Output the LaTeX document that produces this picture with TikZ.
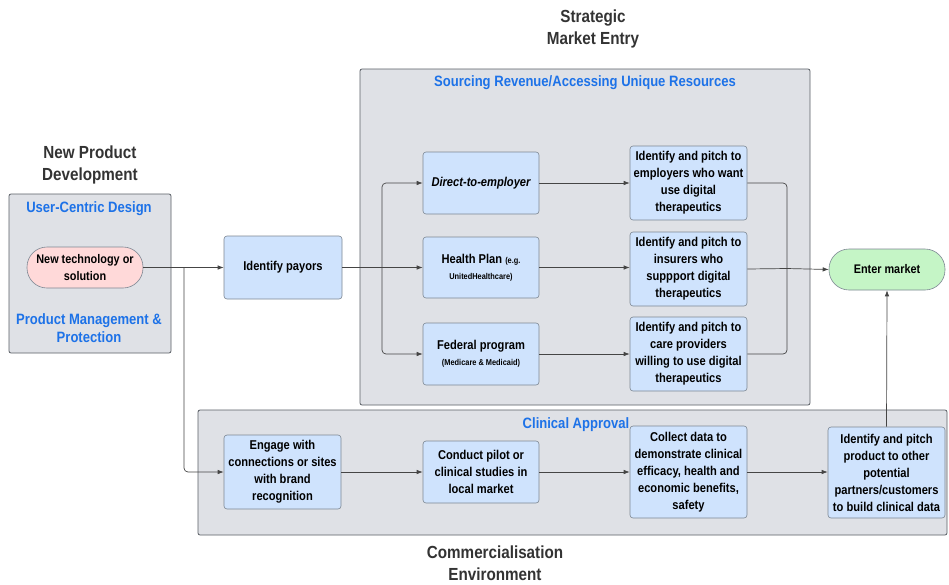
\documentclass[tikz,border=0pt]{standalone}
\usepackage{fontspec}
\setmainfont{Liberation Sans}[FakeStretch=0.87]
\usetikzlibrary{arrows.meta,calc}
\definecolor{panelfill}{HTML}{DFE1E6}
\definecolor{panelline}{HTML}{5A5F66}
\definecolor{boxfill}{HTML}{CFE3FD}
\definecolor{boxline}{HTML}{7D8793}
\definecolor{headblue}{HTML}{1D72E8}
\definecolor{titlegray}{HTML}{333333}
\definecolor{linkgray}{HTML}{454545}
\definecolor{startfill}{HTML}{FFD9D9}
\definecolor{endfill}{HTML}{C5F5C6}
\tikzset{
  panel/.style={draw=panelline, fill=panelfill, line width=0.8pt, rounded corners=2pt},
  stepbox/.style={draw=boxline, fill=boxfill, line width=0.6pt, rounded corners=3pt,
    align=center, font=\bfseries\fontsize{12.8}{17}\selectfont, inner sep=2pt},
  pill/.style={draw=boxline, line width=0.6pt, rounded corners=20pt, align=center,
    font=\bfseries\fontsize{12.5}{16.5}\selectfont},
  heading/.style={text=titlegray, align=center, font=\bfseries\fontsize{17.5}{21.5}\selectfont},
  subhead/.style={text=headblue, align=center, font=\bfseries\fontsize{15}{18.5}\selectfont},
  link/.style={draw=linkgray, line width=0.7pt},
  arr/.style={link, -{Latex[length=6pt,width=4.5pt]}},
}
\begin{document}
\begin{tikzpicture}[x=1pt,y=-1pt]
\useasboundingbox[fill=white] (0,0) rectangle (949,584);

% section titles
\node[heading] (tnpd) at (90,165) {New Product\\Development};
\node[heading] (tsme) at (593,29) {Strategic\\Market Entry};
\node[heading] (tce) at (495,563) {Commercialisation\\Environment};

% panels
\draw[panel] (9,194) rectangle (171,353);
\draw[panel] (360,69) rectangle (810,405);
\draw[panel] (198,410) rectangle (947,535);

\node[subhead] (hucd) at (89,209) {User-Centric Design};
\node[subhead] (hpmp) at (89,328) {Product Management \&\\Protection};
\node[subhead] (hsrc) at (585,83) {Sourcing Revenue/Accessing Unique Resources};
\node[subhead] (hca) at (576,425) {Clinical Approval};

% steps
\node[pill, fill=startfill, minimum width=116pt, minimum height=41pt] (tech) at (85,267.5) {New technology or\\solution};
\node[stepbox, minimum width=118pt, minimum height=63pt] (payors) at (283,267.5) {Identify payors};

\node[stepbox, minimum width=116pt, minimum height=62pt, font=\bfseries\itshape\fontsize{12.8}{17}\selectfont] (direct) at (481,183) {Direct-to-employer};
\node[stepbox, minimum width=116pt, minimum height=61pt] (health) at (481,267.5)
  {Health Plan {\fontsize{8.5}{10}\selectfont(e.g.}\\[-1pt]{\fontsize{8.5}{10}\selectfont UnitedHealthcare)}};
\node[stepbox, minimum width=116pt, minimum height=62pt] (federal) at (481,354)
  {Federal program\\[-1pt]{\fontsize{8.5}{10}\selectfont(Medicare \& Medicaid)}};

\node[stepbox, minimum width=117pt, minimum height=74pt] (pemp) at (688.5,183)
  {Identify and pitch to\\employers who want\\use digital\\therapeutics};
\node[stepbox, minimum width=117pt, minimum height=74pt] (pins) at (688.5,269)
  {Identify and pitch to\\insurers who\\suppport digital\\therapeutics};
\node[stepbox, minimum width=117pt, minimum height=74pt] (pcare) at (688.5,354)
  {Identify and pitch to\\care providers\\willing to use digital\\therapeutics};

\node[pill, fill=endfill, minimum width=116pt, minimum height=41pt] (enter) at (887,269.5) {Enter market};

\node[stepbox, minimum width=117pt, minimum height=74pt] (engage) at (282.5,472)
  {Engage with\\connections or sites\\with brand\\recognition};
\node[stepbox, minimum width=116pt, minimum height=62pt] (conduct) at (481,472)
  {Conduct pilot or\\clinical studies in\\local market};
\node[stepbox, minimum width=117pt, minimum height=92pt] (collect) at (688.5,472)
  {Collect data to\\demonstrate clinical\\efficacy, health and\\economic benefits,\\safety};
\node[stepbox, minimum width=117pt, minimum height=91pt] (other) at (886.5,472.5)
  {Identify and pitch\\product to other\\potential\\partners/customers\\to build clinical data};

% junction points
\coordinate (tap) at (184,267.5);
\coordinate (split) at (382,267.5);
\coordinate (merge) at (787,268.5);

% connectors
\draw[arr] (tech.east) -- (payors.west);
\draw[arr, rounded corners=4pt] (tap) |- (engage.west);
\draw[link] (payors.east) -- (split);
\draw[arr, rounded corners=4pt] (split) |- (direct.west);
\draw[arr] (split) -- (health.west);
\draw[arr, rounded corners=4pt] (split) |- (federal.west);

\draw[arr] (direct.east) -- (direct.east -| pemp.west);
\draw[arr] (health.east) -- (health.east -| pins.west);
\draw[arr] (federal.east) -- (federal.east -| pcare.west);

\draw[link, rounded corners=4pt] (pemp.east) -| (merge);
\draw[link, rounded corners=4pt] (pcare.east) -| (merge);
\draw[link] (pins.east) -- (merge);
\draw[arr] (merge) -- (enter.west);

\draw[arr] (engage.east) -- (engage.east -| conduct.west);
\draw[arr] (conduct.east) -- (conduct.east -| collect.west);
\draw[arr] (collect.east) -- (collect.east -| other.west);
\draw[arr] (other.north) -- (enter.south);
\end{tikzpicture}
\end{document}
